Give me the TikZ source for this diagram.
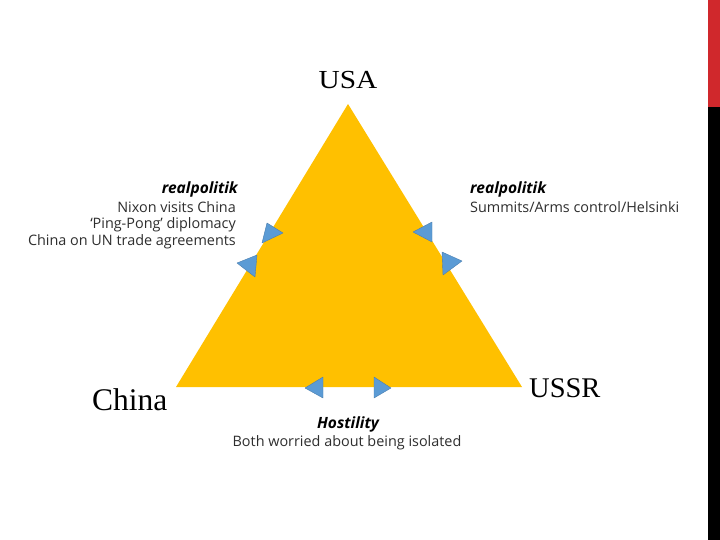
\documentclass[tikz,border=0pt]{standalone}
\usepackage{fontspec}
\setmainfont{Liberation Serif}
\newfontfamily\labfont{Open Sans}
\definecolor{gold}{HTML}{FFC000}
\definecolor{bluetri}{HTML}{5B9BD5}
\definecolor{blueedge}{HTML}{4A7FB0}
\definecolor{redbar}{HTML}{D0282C}
\definecolor{txt}{HTML}{2E2E2E}
\begin{document}
\begin{tikzpicture}[x=1pt,y=-1pt,
  country/.style={inner sep=0pt, text=black},
  lab/.style={inner sep=0pt, text=txt, font=\labfont\fontsize{14.4}{16}\selectfont},
  labhead/.style={inner sep=0pt, text=black, font=\labfont\fontsize{15.5}{17}\selectfont\bfseries\itshape},
  arrowtri/.style={fill=bluetri, draw=blueedge, line width=0.4pt, line join=round}]
\useasboundingbox (0,0) rectangle (720,540);
\fill[white] (0,0) rectangle (720,540);
% side bar
\fill[redbar] (708,0) rectangle (720,107);
\fill[black] (708,107) rectangle (720,540);
% triangle
\coordinate (top) at (348,104);
\coordinate (lft) at (176,387);
\coordinate (rgt) at (522,387);
\fill[gold] (top) -- (lft) -- (rgt) -- cycle;
% blue triangles, left edge
\draw[arrowtri] (283,233) -- (267,223) -- (262,243) -- cycle;
\draw[arrowtri] (237,263) -- (257,255) -- (255,277) -- cycle;
% right edge
\draw[arrowtri] (413,232) -- (432,222) -- (432,242) -- cycle;
\draw[arrowtri] (462,261) -- (442,252) -- (443,275) -- cycle;
% bottom edge
\draw[arrowtri] (305,388) -- (323,377) -- (323,398) -- cycle;
\draw[arrowtri] (391,388) -- (374,377) -- (374,398) -- cycle;
% country labels
\node[country, anchor=base] (usa) at (348,89) {\fontsize{26}{28}\selectfont\scalebox{1.13}[1]{USA}};
\node[country, anchor=base west] (china) at (92,410) {\fontsize{31.5}{33}\selectfont China};
\node[country, anchor=base west] (ussr) at (529,397) {\fontsize{28.5}{30}\selectfont USSR};
% left text block
\node[labhead, anchor=base east] (lh) at (238,194) {realpolitik};
\node[lab, anchor=base east] (l1) at (236,213) {Nixon visits China};
\node[lab, anchor=base east] (l2) at (236,229) {‘Ping-Pong’ diplomacy};
\node[lab, anchor=base east] (l3) at (236,245) {China on UN trade agreements};
% right text block
\node[labhead, anchor=base west] (rh) at (470,194) {realpolitik};
\node[lab, anchor=base west] (r1) at (470,213) {Summits/Arms control/Helsinki};
% bottom text
\node[labhead, anchor=base] (bh) at (348,428) {Hostility};
\node[lab, anchor=base] (b1) at (347,446) {Both worried about being isolated};
\end{tikzpicture}
\end{document}
